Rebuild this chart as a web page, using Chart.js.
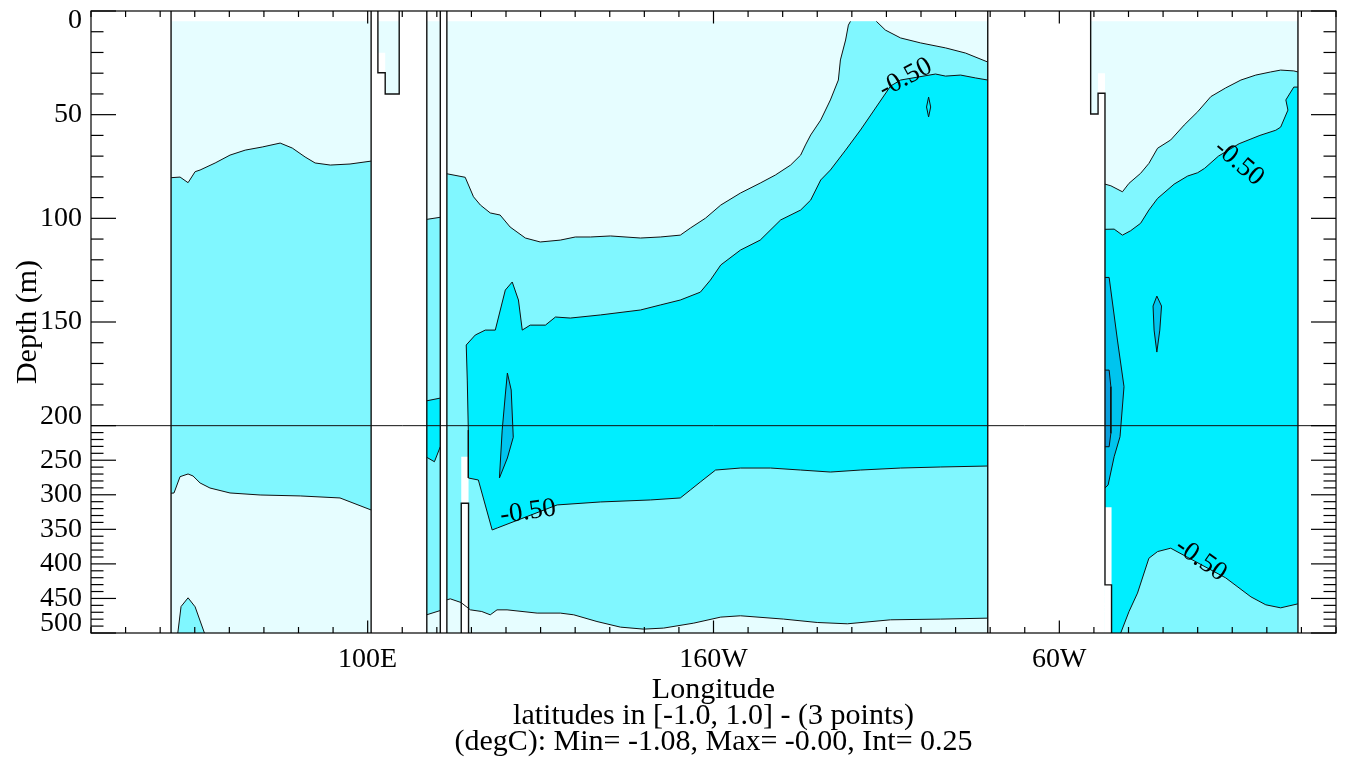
<!DOCTYPE html>
<html>
<head>
<meta charset="utf-8">
<script src="https://cdn.jsdelivr.net/npm/chart.js@4/dist/chart.umd.min.js"></script>
<style>
  html, body { margin: 0; padding: 0; background: #fff; }
</style>
</head>
<body>
<canvas id="section" width="1347" height="764"></canvas>
<script>
// Depth/longitude section, values as [longitude (0-360 E), depth (m)]

const LON_MIN = 20, LON_MAX = 380;
const X_TICK_VALUES = [100, 200, 300];
const X_TICK_LABELS = ['100E', '160W', '60W'];
const Y_TICK_VALUES = [0, 50, 100, 150, 200, 250, 300, 350, 400, 450, 500];
const SPLIT_DEPTH = 200;
const MAX_DEPTH = 500;
const FIRST_LEVEL = 5;

// fill colours, warmest to coldest
const LEVEL_COLORS = ['#e6fdff', '#80f7ff', '#00eeff', '#00c4ee', '#0a9fdc'];

// ocean columns (light fill) [lon0, lon1]
const OCEAN_COLUMNS = [[43.15, 101.0], [117.1, 121.0], [122.9, 279.3]];
const POCKET_LIGHT = [[102.96,5],[109.12,5],[109.12,40],[105.07,40],[105.07,20.1],[102.96,20.1]];
const D_LIGHT = [[309.06,5],[369.0,5],[369.0,500],[315.1,500],[315.1,430.3],[313.2,430.3],[313.2,39.7],[311.2,39.7],[311.2,49.7],[309.06,49.7]];

// column west of 100E
const A_C25_TOP = [[43.15,80.4],[45.75,80.1],[48.07,82.8],[50.1,77.5],[51.54,76.7],[55.9,73.3],[60.2,69.5],[64.6,67.1],[69.5,65.6],[74.7,63.7],[78.2,66.1],[81.9,70.4],[84.8,73.3],[89.2,74.3],[94.9,73.8],[101.0,72.4]];
const A_C25_BOT = [[43.15,297.8],[44.0,297.4],[45.75,273.8],[48.07,269.9],[49.5,272.8],[51.54,282.9],[54.4,290.2],[60.2,297.4],[68.9,300.3],[80.5,301.7],[92.0,304.6],[101.0,322.0]];
const A_BUMP = [[45.1,500],[46.04,461.7],[48.07,449.1],[50.1,462.1],[52.8,500]];

// narrow column near 120E
const B_C25_TOP = [[117.1,100.5],[121.0,99.5]];
const B_C25_BOT = [[117.1,473.6],[121.0,467.5]];
const B_C50_TOP = [[117.1,188.0],[121.0,186.7]];
const B_C50_BOT = [[117.1,245.8],[119.3,252.2],[121.0,230.5]];

// Pacific
const C_C25_TOP = [[122.9,78.5],[128.2,80.2],[130.6,89.6],[132.6,93.6],[135.45,97.4],[138.3,98.4],[141.2,104.2],[145.6,109.5],[149.9,111.4],[155.7,110.5],[160.05,109.0],[164.4,109.0],[170.2,108.5],[178.9,109.5],[184.6,109.0],[190.4,108.1],[193.3,104.7],[197.7,99.9],[202.1,93.6],[207.8,87.8],[213.5,83.0],[217.9,79.1],[222.3,74.3],[225.2,69.5],[226.6,64.6],[228.1,59.8],[231.0,52.6],[233.8,42.9],[236.1,33.3],[236.7,23.6],[238.2,14.0],[239.0,6.8],[239.6,5]];
const C_C25_TOP2 = [[247.1,5],[249.7,9.2],[254.1,13.0],[259.9,15.4],[267.1,17.8],[272.9,20.3],[279.3,24.6]];
const C_C25_BOT = [[122.9,452.0],[123.9,450.6],[127.0,455.9],[129.7,466.5],[133.0,468.9],[135.45,473.7],[137.4,466.5],[140.3,466.5],[149.0,471.2],[155.7,471.2],[159.6,473.7],[166.3,483.4],[173.1,491.5],[179.8,494.4],[185.6,492.9],[194.3,485.7],[202.1,477.0],[207.8,475.1],[220.3,479.9],[230.0,484.8],[238.7,486.7],[251.2,480.9],[265.7,479.9],[279.3,478.5]];
const C_C50 = [[279.3,33.3],[275.8,32.3],[271.45,30.9],[267.1,31.4],[264.2,30.4],[254.1,33.3],[251.2,36.2],[246.85,46.8],[242.5,57.4],[238.2,67.1],[233.8,76.7],[231.0,81.5],[228.1,91.2],[225.2,96.0],[219.4,100.8],[213.5,110.5],[207.8,115.3],[202.1,122.5],[199.1,129.8],[196.2,135.6],[190.4,139.4],[184.6,141.8],[178.9,144.2],[167.3,146.6],[158.6,148.1],[154.3,147.6],[151.4,151.5],[147.0,151.5],[144.7,153.9],[143.6,139.4],[141.8,130.7],[139.8,134.6],[136.9,153.9],[134.0,153.9],[131.1,156.3],[128.5,161.1],[128.8,178.0],[129.1,206.4],[129.1,275.7],[132.0,278.6],[136.0,350.9],[137.5,348.0],[154.8,314.7],[167.3,310.4],[181.75,307.5],[190.4,304.6],[193.3,293.1],[196.2,281.5],[200.6,264.2],[207.8,261.3],[216.5,261.3],[225.2,264.2],[233.8,267.1],[242.5,264.2],[254.1,261.3],[265.7,259.8],[279.3,258.4]];
const C_LENS = [[140.4,174.6],[141.5,182.8],[142.1,216.8],[140.4,246.8],[138.1,275.7],[138.9,206.4],[139.8,185.2]];
const C_DOT = [[262.2,41.5],[262.8,46.3],[262.2,51.1],[261.6,46.3]];

// Atlantic
const D_C25 = [[313.2,83.5],[314.9,84.3],[318.25,87.2],[320.15,83.1],[323.5,78.3],[325.9,73.5],[328.4,66.2],[332.2,62.2],[336.1,55.0],[340.0,48.6],[343.8,41.3],[348.1,37.1],[352.5,33.3],[356.8,30.9],[361.1,29.4],[364.0,28.5],[367.8,28.9],[369.0,29.4]];
const D_C50_TOP = [[313.2,105.3],[315.85,105.2],[318.25,108.1],[320.6,106.0],[323.5,102.4],[325.9,96.0],[328.4,90.4],[333.2,83.5],[337.1,79.6],[340.0,78.0],[342.0,75.9],[346.0,70.0],[352.0,64.0],[358.0,60.0],[362.6,57.5],[364.0,56.0],[366.1,47.8],[365.5,42.9],[366.9,39.1],[367.8,36.7],[369.0,36.7]];
const D_BUMP = [[317.75,500],[320.15,468.9],[322.6,442.3],[325.9,391.8],[328.4,382.2],[332.2,377.3],[348.1,420.2],[355.4,447.7],[359.7,459.2],[364.0,463.6],[369.0,457.8]];
const D_C75 = [[313.2,128.5],[314.4,128.5],[316.8,158.7],[318.7,181.2],[317.55,216.0],[315.85,244.9],[314.1,285.8],[313.2,290.2]];
const D_C100 = [[313.2,173.2],[314.4,173.2],[314.9,181.2],[314.9,211.1],[314.4,230.5],[313.2,230.5]];
const D_LENS = [[328.2,137.5],[329.55,142.3],[329.05,153.9],[328.2,164.5],[327.4,153.9],[327.1,142.3]];

// missing data patches [lon0, lon1, depth0, depth1]
const NO_DATA = [[127.06,129.17,244.9,500],[311.2,313.2,30.05,39.7],[313.2,315.1,318.1,500]];

// coastline outlines
const LAND_LINES = [
    [[43.15,0],[43.15,500]],
    [[101.0,0],[101.0,500]],
    [[102.96,0],[102.96,29.8],[105.07,29.8],[105.07,40],[109.12,40],[109.12,0]],
    [[117.1,0],[117.1,500]],
    [[121.0,0],[121.0,500]],
    [[122.9,0],[122.9,500]],
    [[127.06,500],[127.06,312.3],[129.17,312.3],[129.17,500]],
    [[279.3,0],[279.3,500]],
    [[309.06,0],[309.06,49.7],[311.2,49.7],[311.2,39.7],[313.2,39.7],[313.2,430.3],[315.1,430.3],[315.1,500]],
    [[369.0,0],[369.0,500]]
];

// [text, lon, depth, angle in degrees]
const CONTOUR_LABELS = [
    ['-0.50', 146.4, 324.9, -8],
    ['-0.50', 255.5, 32.3, -28],
    ['-0.50', 351.9, 73.3, 40],
    ['-0.50', 340.9, 394.2, 35]
];

const FONT = 'Liberation Serif';

// depth axis: upper two thirds 0-200 m, lower third 200-500 m
class SplitDepthScale extends Chart.LinearScale {
    splitPixel() {
        return this.top + (this.bottom - this.top) * 2 / 3;
    }
    getPixelForValue(value) {
        const mid = this.splitPixel();
        if (value <= SPLIT_DEPTH) {
            return this.top + (value - this.min) / (SPLIT_DEPTH - this.min) * (mid - this.top);
        }
        return mid + (value - SPLIT_DEPTH) / (this.max - SPLIT_DEPTH) * (this.bottom - mid);
    }
    getValueForPixel(pixel) {
        const mid = this.splitPixel();
        if (pixel <= mid) {
            return this.min + (pixel - this.top) / (mid - this.top) * (SPLIT_DEPTH - this.min);
        }
        return SPLIT_DEPTH + (pixel - mid) / (this.bottom - mid) * (this.max - SPLIT_DEPTH);
    }
}
SplitDepthScale.id = 'splitDepth';
SplitDepthScale.defaults = Chart.LinearScale.defaults;
Chart.register(SplitDepthScale);

function toPoints(list) {
    return list.map(p => ({ x: p[0], y: p[1] }));
}

function box(b) {
    return [[b[0], b[2]], [b[1], b[2]], [b[1], b[3]], [b[0], b[3]]];
}

function reversed(list) {
    return list.slice().reverse();
}

function closed(list) {
    return list.concat([list[0]]);
}

function area(points, color) {
    return {
        data: toPoints(points),
        showLine: true,
        fill: 'shape',
        backgroundColor: color,
        borderColor: 'rgba(0,0,0,0)',
        borderWidth: 0,
        pointRadius: 0
    };
}

function contour(points, width) {
    return {
        data: toPoints(points),
        showLine: true,
        fill: false,
        borderColor: '#111',
        borderWidth: width,
        pointRadius: 0
    };
}

const layers = [];

// level 0 (lightest)
OCEAN_COLUMNS.forEach(c => layers.push(area(box([c[0], c[1], FIRST_LEVEL, MAX_DEPTH]), LEVEL_COLORS[0])));
layers.push(area(POCKET_LIGHT, LEVEL_COLORS[0]));
layers.push(area(D_LIGHT, LEVEL_COLORS[0]));

// level 1
layers.push(area(A_C25_TOP.concat(reversed(A_C25_BOT)), LEVEL_COLORS[1]));
layers.push(area(A_BUMP, LEVEL_COLORS[1]));
layers.push(area(B_C25_TOP.concat(reversed(B_C25_BOT)), LEVEL_COLORS[1]));
layers.push(area(C_C25_TOP.concat(C_C25_TOP2, reversed(C_C25_BOT)), LEVEL_COLORS[1]));
layers.push(area(D_C25.concat([[369.0, MAX_DEPTH], [313.2, MAX_DEPTH]]), LEVEL_COLORS[1]));

// level 2
layers.push(area(B_C50_TOP.concat(reversed(B_C50_BOT)), LEVEL_COLORS[2]));
layers.push(area(C_C50, LEVEL_COLORS[2]));
layers.push(area(D_C50_TOP.concat(reversed(D_BUMP), [[313.2, MAX_DEPTH]]), LEVEL_COLORS[2]));

// level 3 and 4
layers.push(area(C_LENS, LEVEL_COLORS[3]));
layers.push(area(D_C75, LEVEL_COLORS[3]));
layers.push(area(D_LENS, LEVEL_COLORS[3]));
layers.push(area(D_C100, LEVEL_COLORS[4]));

NO_DATA.forEach(b => layers.push(area(box(b), '#ffffff')));

// contour lines
[A_C25_TOP, A_C25_BOT, A_BUMP, B_C25_TOP, B_C25_BOT, B_C50_TOP, B_C50_BOT,
 C_C25_TOP, C_C25_TOP2, C_C25_BOT, C_C50, D_C25, D_C50_TOP, D_BUMP, D_C75, D_C100]
    .forEach(c => layers.push(contour(c, 1)));
[C_LENS, C_DOT, D_LENS].forEach(c => layers.push(contour(closed(c), 1)));

LAND_LINES.forEach(l => layers.push(contour(l, 1.4)));
layers.push(contour([[LON_MIN, SPLIT_DEPTH], [LON_MAX, SPLIT_DEPTH]], 1));

// first dataset in the list is painted first
layers.forEach((d, i) => { d.order = layers.length - i; });

const axisDecor = {
    id: 'axisDecor',
    afterDraw(chart) {
        const { ctx, chartArea: a } = chart;
        const xs = chart.scales.x, ys = chart.scales.y;
        ctx.save();
        ctx.strokeStyle = '#000';
        ctx.lineWidth = 1.2;

        const seg = (x0, y0, x1, y1) => {
            ctx.beginPath();
            ctx.moveTo(x0, y0);
            ctx.lineTo(x1, y1);
            ctx.stroke();
        };

        for (let v = LON_MIN; v <= LON_MAX; v += 10) {
            const px = xs.getPixelForValue(v);
            const len = X_TICK_VALUES.includes(v) ? 12.5 : 6;
            seg(px, a.bottom, px, a.bottom - len);
            seg(px, a.top, px, a.top + len);
        }
        for (let v = 0; v <= MAX_DEPTH; v += 10) {
            const py = ys.getPixelForValue(v);
            const len = v % 50 === 0 ? 25 : 12.5;
            seg(a.left, py, a.left + len, py);
            seg(a.right, py, a.right - len, py);
        }
        ctx.strokeRect(a.left, a.top, a.right - a.left, a.bottom - a.top);

        // depth labels, kept inside their half of the broken axis
        ctx.fillStyle = '#000';
        ctx.font = '28px "' + FONT + '"';
        ctx.textAlign = 'right';
        ctx.textBaseline = 'middle';
        const mid = ys.getPixelForValue(SPLIT_DEPTH);
        Y_TICK_VALUES.forEach(v => {
            let py = ys.getPixelForValue(v);
            const lo = v <= SPLIT_DEPTH ? a.top : mid;
            const hi = v <= SPLIT_DEPTH ? mid : a.bottom;
            py = Math.min(Math.max(py, lo + 9.5), hi - 9.5);
            ctx.fillText(String(v), a.left - 9, py);
        });

        // contour labels
        ctx.font = '27px "' + FONT + '"';
        ctx.textAlign = 'center';
        CONTOUR_LABELS.forEach(([text, lon, depth, angle]) => {
            ctx.save();
            ctx.translate(xs.getPixelForValue(lon), ys.getPixelForValue(depth));
            ctx.rotate(angle * Math.PI / 180);
            ctx.fillText(text, 0, 0);
            ctx.restore();
        });
        ctx.restore();
    }
};

Chart.defaults.font.family = FONT;
Chart.defaults.color = '#000';

new Chart(document.getElementById('section'), {
    type: 'scatter',
    data: { datasets: layers },
    options: {
        responsive: false,
        devicePixelRatio: 1,
        animation: false,
        events: [],
        layout: { padding: { top: 11, right: 11, bottom: 0, left: 0 } },
        plugins: {
            legend: { display: false },
            tooltip: { enabled: false }
        },
        scales: {
            x: {
                type: 'linear',
                position: 'bottom',
                min: LON_MIN,
                max: LON_MAX,
                grid: { display: false, drawTicks: false },
                border: { display: false },
                afterBuildTicks: scale => { scale.ticks = X_TICK_VALUES.map(v => ({ value: v })); },
                afterFit: scale => { scale.height = 131; },
                ticks: {
                    autoSkip: false,
                    maxRotation: 0,
                    padding: 10,
                    font: { size: 28 },
                    callback: (value, index) => X_TICK_LABELS[index]
                },
                title: {
                    display: true,
                    text: ['Longitude', 'latitudes in [-1.0, 1.0] - (3 points)', '(degC): Min= -1.08, Max= -0.00, Int= 0.25'],
                    font: { size: 30, lineHeight: '26px' },
                    padding: { top: 0, bottom: 9 }
                }
            },
            y: {
                type: 'splitDepth',
                position: 'left',
                min: 0,
                max: MAX_DEPTH,
                grid: { display: false, drawTicks: false },
                border: { display: false },
                afterFit: scale => { scale.width = 91; },
                ticks: { display: false },
                title: {
                    display: true,
                    text: 'Depth (m)',
                    font: { size: 30, lineHeight: 1.2 },
                    padding: { top: 10, bottom: 0 }
                }
            }
        }
    },
    plugins: [axisDecor]
});
</script>
</body>
</html>
